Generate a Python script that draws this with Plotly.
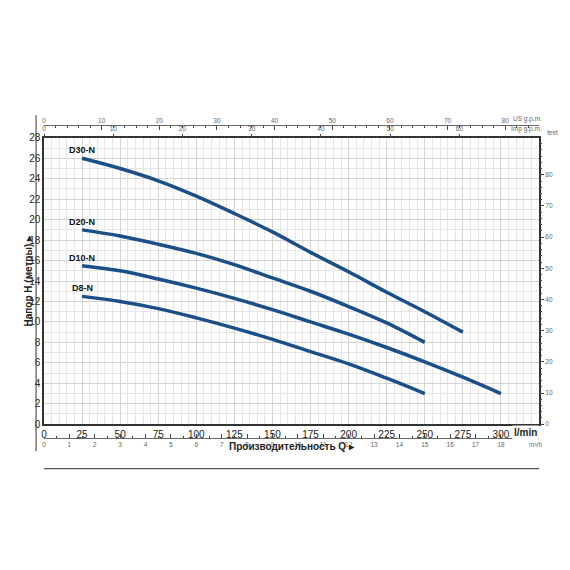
import plotly.graph_objects as go

q = [25, 50, 75, 100, 125, 150, 175, 200, 225, 250, 275, 300]
d30 = [26, 25, 23.8, 22.3, 20.6, 18.8, 16.8, 14.9, 12.9, 11, 9]
d20 = [19, 18.4, 17.6, 16.7, 15.6, 14.3, 13, 11.5, 9.9, 8]
d10 = [15.5, 15, 14.2, 13.3, 12.3, 11.2, 10, 8.8, 7.5, 6.1, 4.6, 3]
d8 = [12.5, 12, 11.3, 10.4, 9.4, 8.3, 7.1, 5.9, 4.5, 3]
names = ["D30-N", "D20-N", "D10-N", "D8-N"]
series = [d30, d20, d10, d8]

lmin_ticks = list(range(0, 301, 25))
m_ticks = list(range(0, 29, 2))
feet_ticks = list(range(0, 81, 10))
usgpm_ticks = list(range(0, 81, 10))
impgpm_ticks = list(range(0, 61, 10))
m3h_ticks = list(range(0, 19))

XMAX = 325
YMAX = 28
Y0, Y1 = 0.2415, 0.787
col = "#1b4f8a"
fs = dict(family="Liberation Sans Narrow, Liberation Sans, Arial", size=10, color="#222")
fsm = dict(family="Liberation Sans", size=6.5, color="#666")

fig = go.Figure()
for n, s in zip(names, series):
    fig.add_trace(go.Scatter(x=q[:len(s)], y=s, mode="lines", line=dict(color=col, width=3.5, shape="spline"),
                             showlegend=False, hoverinfo="skip"))
    fig.add_annotation(x=q[0], y=s[0], text="<b>%s</b>" % n, showarrow=False, xanchor="center", yanchor="bottom",
                       yshift=1, font=dict(family="Liberation Sans Narrow, Liberation Sans", size=9, color="#111"))

grid = dict(showgrid=True, gridcolor="#d4d4d4", gridwidth=1)
fig.update_layout(
    width=570, height=570, paper_bgcolor="white", plot_bgcolor="white",
    margin=dict(l=36, r=39, t=13, b=27),
    xaxis=dict(range=[0, XMAX], domain=[0, 1], tickvals=lmin_ticks, tickfont=dict(fs, size=10),
               showline=True, linecolor="#333", linewidth=1.5, mirror=True, **grid,
               minor=dict(dtick=5, showgrid=True, gridcolor="#e6e6e6"),
               anchor="y", zeroline=False, ticks="", tickprefix="<b>", ticksuffix="</b>"),
    yaxis=dict(range=[0, YMAX], domain=[Y0, Y1], tickvals=m_ticks, tickfont=fs,
               showline=True, linecolor="#333", linewidth=1.5, mirror=True, **grid,
               minor=dict(dtick=1, showgrid=True, gridcolor="#e6e6e6"),
               zeroline=False, tickprefix="<b>", ticksuffix="</b>", ticks=""),
    yaxis2=dict(range=[0, YMAX / 0.3048], tickvals=feet_ticks, overlaying="y", side="right", anchor="x",
                ticks="outside", ticklen=4, tickfont=fsm, showgrid=False, zeroline=False,
                minor=dict(dtick=2, ticks="outside", ticklen=2)),
    xaxis2=dict(range=[0, XMAX / 3.785], tickvals=usgpm_ticks, overlaying="x", anchor="free", position=0.811,
                side="top", showline=True, linecolor="#666", ticks="inside", ticklen=4, tickfont=fsm,
                showgrid=False, zeroline=False, minor=dict(dtick=2, ticks="inside", ticklen=2)),
    xaxis3=dict(range=[0, XMAX / 4.546], tickvals=impgpm_ticks, overlaying="x", anchor="free", position=Y1,
                side="top", ticks="outside", ticklen=4, tickfont=fsm, showgrid=False, zeroline=False,
                minor=dict(dtick=2, ticks="outside", ticklen=2)),
    xaxis4=dict(range=[0, XMAX * 0.06], tickvals=m3h_ticks, overlaying="x", anchor="free", position=0.215,
                side="bottom", showline=True, linecolor="#666", ticks="inside", ticklen=4, tickfont=fsm,
                showgrid=False, zeroline=False, minor=dict(dtick=0.5, ticks="inside", ticklen=2)),
)
fig.add_trace(go.Scatter(x=[0], y=[0], yaxis="y2", mode="markers", marker=dict(opacity=0), showlegend=False, hoverinfo="skip"))
for ax in ["x2", "x3", "x4"]:
    fig.add_trace(go.Scatter(x=[0], y=[0], xaxis=ax, mode="markers", marker=dict(opacity=0), showlegend=False, hoverinfo="skip"))

fig.add_annotation(x=1.0, y=Y0, xref="paper", yref="paper", text="<b>l/min</b>", showarrow=False,
                   xanchor="right", yanchor="top", yshift=-1, font=fs, bgcolor="white")
fig.add_annotation(x=1.01, y=0.811, xref="paper", yref="paper", text="US g.p.m.", showarrow=False,
                   xanchor="right", yanchor="bottom", font=fsm)
fig.add_annotation(x=1.01, y=Y1, xref="paper", yref="paper", text="Imp g.p.m.", showarrow=False,
                   xanchor="right", yanchor="bottom", yshift=3, font=fsm)
fig.add_annotation(x=1.01, y=0.215, xref="paper", yref="paper", text="m³/h", showarrow=False,
                   xanchor="right", yanchor="top", yshift=-1, font=fsm, bgcolor="white")
fig.add_annotation(x=1.0, y=Y1, xref="paper", yref="paper", text="feet", showarrow=False,
                   xanchor="left", yanchor="bottom", xshift=6, font=fsm)
fig.add_annotation(x=0.5, y=0.185, xref="paper", yref="paper", text="<b>Производительность Q ▸</b>", showarrow=False,
                   font=dict(fs, size=10))
fig.add_annotation(x=0, y=(Y0 + Y1) / 2, xref="paper", yref="paper", text="<b>Напор H (метры) ▸</b>",
                   showarrow=False, textangle=-90, xshift=-23, font=dict(fs, size=10))
fig.add_shape(type="line", xref="paper", yref="paper", x0=-0.016, x1=-0.016, y0=0.19, y1=0.83, line=dict(color="#555", width=1.2))
fig.add_shape(type="line", xref="paper", yref="paper", x0=0, x1=1, y0=0.157, y1=0.157, line=dict(color="#555", width=1.2))

fig.write_html("out.html")
